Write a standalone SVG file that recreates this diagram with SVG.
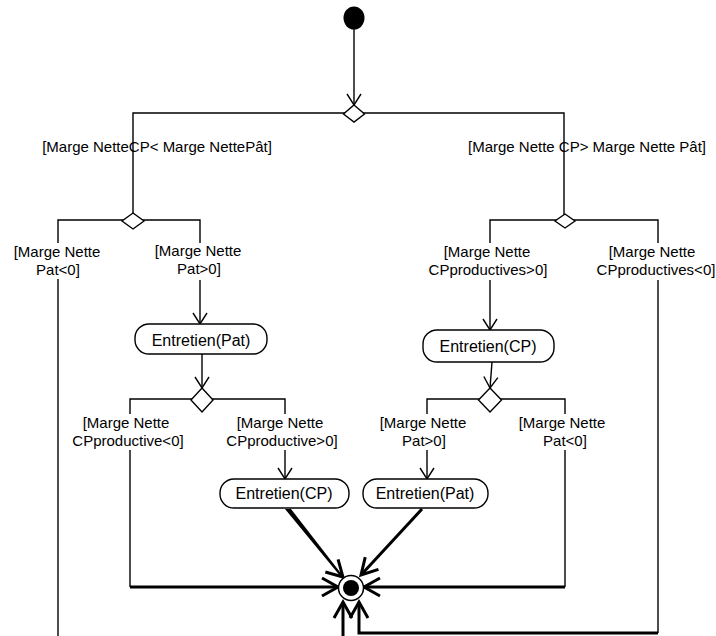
<svg xmlns="http://www.w3.org/2000/svg" width="716" height="636" viewBox="0 0 716 636">
<style>
  .ln{fill:none;stroke:#000;stroke-width:1.4}
  .thk{fill:none;stroke:#000;stroke-width:3}
  .dia{fill:#fff;stroke:#000;stroke-width:1.4}
  .act{fill:#fff;stroke:#000;stroke-width:1.4}
  .lbl{font-family:"Liberation Sans",Arial,sans-serif;font-size:15px;fill:#000;text-anchor:middle}
  .albl{font-family:"Liberation Sans",Arial,sans-serif;font-size:16px;fill:#000;text-anchor:middle}
</style>
<defs>
  <marker id="a" markerUnits="userSpaceOnUse" markerWidth="24" markerHeight="24" refX="0" refY="0" viewBox="-14 -12 16 24" orient="auto">
    <path d="M-11,-7 L0,0 L-11,7" fill="none" stroke="#000" stroke-width="1.4"/>
  </marker>
  <marker id="b" markerUnits="userSpaceOnUse" markerWidth="30" markerHeight="30" refX="0" refY="0" viewBox="-20 -15 24 30" orient="auto">
    <path d="M-16,-9 L0,0 L-16,9" fill="none" stroke="#000" stroke-width="3"/>
  </marker>
</defs>

<g id="connectors">
  <line class="ln" x1="354" y1="29" x2="354" y2="105" marker-end="url(#a)"/>
  <!-- top split -->
  <polyline class="ln" points="133,213 133,113 564,113 564,215"/>
  <!-- left split -->
  <polyline class="ln" points="58,243 58,220 200,220 200,243"/>
  <line class="ln" x1="58" y1="279" x2="58" y2="636"/>
  <line class="ln" x1="200" y1="280" x2="200" y2="324" marker-end="url(#a)"/>
  <line class="ln" x1="202" y1="354" x2="202" y2="388" marker-end="url(#a)"/>
  <polyline class="ln" points="130,414 130,399 285,399 285,414"/>
  <line class="ln" x1="130" y1="450" x2="130" y2="587"/>
  <line class="thk" x1="130" y1="587" x2="338" y2="587" marker-end="url(#b)"/>
  <line class="ln" x1="285" y1="450" x2="285" y2="479" marker-end="url(#a)"/>
  <polygon points="285,509 291,509 343,576 341,577" fill="#000"/>
  <line x1="342" y1="576" x2="343" y2="577" stroke="#000" stroke-width="1.5" marker-end="url(#b)"/>
  <!-- right split -->
  <polyline class="ln" points="490,243 490,220 658,220 658,243"/>
  <line class="ln" x1="490" y1="280" x2="490" y2="330" marker-end="url(#a)"/>
  <line class="ln" x1="492" y1="362" x2="490" y2="388" marker-end="url(#a)"/>
  <polyline class="ln" points="427,414 427,399 565,399 565,414"/>
  <line class="ln" x1="427" y1="450" x2="427" y2="479" marker-end="url(#a)"/>
  <line class="ln" x1="565" y1="450" x2="565" y2="587"/>
  <line class="thk" x1="565" y1="587" x2="364" y2="587" marker-end="url(#b)"/>
  <line class="thk" x1="422" y1="509" x2="361" y2="575" marker-end="url(#b)"/>
  <line class="ln" x1="658" y1="280" x2="658" y2="633"/>
  <polyline class="thk" points="658,633 359,633 359,602" marker-end="url(#b)"/>
  <line class="thk" x1="343" y1="636" x2="343" y2="602" marker-end="url(#b)"/>
</g>

<g id="start"><ellipse cx="354" cy="18" rx="10.5" ry="11.5" fill="#000"/></g>

<g id="d_top"><polygon class="dia" points="354,105 364.5,114 354,122 343.5,114"/></g>
<g id="d_left"><polygon class="dia" points="133,213 144,221 133,229 122,221"/></g>
<g id="d_right"><polygon class="dia" points="565,214 575,221 565,228 555,221"/></g>
<g id="d_left2"><polygon class="dia" points="202,388 213,400 202,412 191,400"/></g>
<g id="d_right2"><polygon class="dia" points="490,388 501.5,400 490,412 478.5,400"/></g>

<g id="a_pat1"><rect class="act" x="135" y="324" width="132" height="30" rx="14" ry="14"/><text class="albl" x="201" y="346">Entretien(Pat)</text></g>
<g id="a_cp1"><rect class="act" x="423" y="330" width="131" height="32" rx="14" ry="14"/><text class="albl" x="488" y="352">Entretien(CP)</text></g>
<g id="a_cp2"><rect class="act" x="220" y="479" width="129" height="29" rx="14" ry="14"/><text class="albl" x="284" y="499">Entretien(CP)</text></g>
<g id="a_pat2"><rect class="act" x="363" y="479" width="125" height="29" rx="14" ry="14"/><text class="albl" x="425" y="499">Entretien(Pat)</text></g>

<g id="final">
  <circle cx="351" cy="588" r="12.5" fill="#fff" stroke="#000" stroke-width="1.5"/>
  <circle cx="351" cy="588" r="8" fill="#000"/>
</g>

<g id="labels">
  <text class="lbl" x="157" y="152">[Marge NetteCP&lt; Marge NettePât]</text>
  <text class="lbl" x="587" y="152">[Marge Nette CP&gt; Marge Nette Pât]</text>
  <text class="lbl" x="57" y="257">[Marge Nette</text><text class="lbl" x="58" y="275">Pat&lt;0]</text>
  <text class="lbl" x="198" y="256">[Marge Nette</text><text class="lbl" x="199" y="274">Pat&gt;0]</text>
  <text class="lbl" x="487" y="257">[Marge Nette</text><text class="lbl" x="488" y="275">CPproductives&gt;0]</text>
  <text class="lbl" x="652" y="257">[Marge Nette</text><text class="lbl" x="656" y="275">CPproductives&lt;0]</text>
  <text class="lbl" x="126" y="428">[Marge Nette</text><text class="lbl" x="128" y="446">CPproductive&lt;0]</text>
  <text class="lbl" x="280" y="428">[Marge Nette</text><text class="lbl" x="282" y="446">CPproductive&gt;0]</text>
  <text class="lbl" x="423" y="428">[Marge Nette</text><text class="lbl" x="424" y="446">Pat&gt;0]</text>
  <text class="lbl" x="562" y="428">[Marge Nette</text><text class="lbl" x="565" y="446">Pat&lt;0]</text>
</g>
</svg>
